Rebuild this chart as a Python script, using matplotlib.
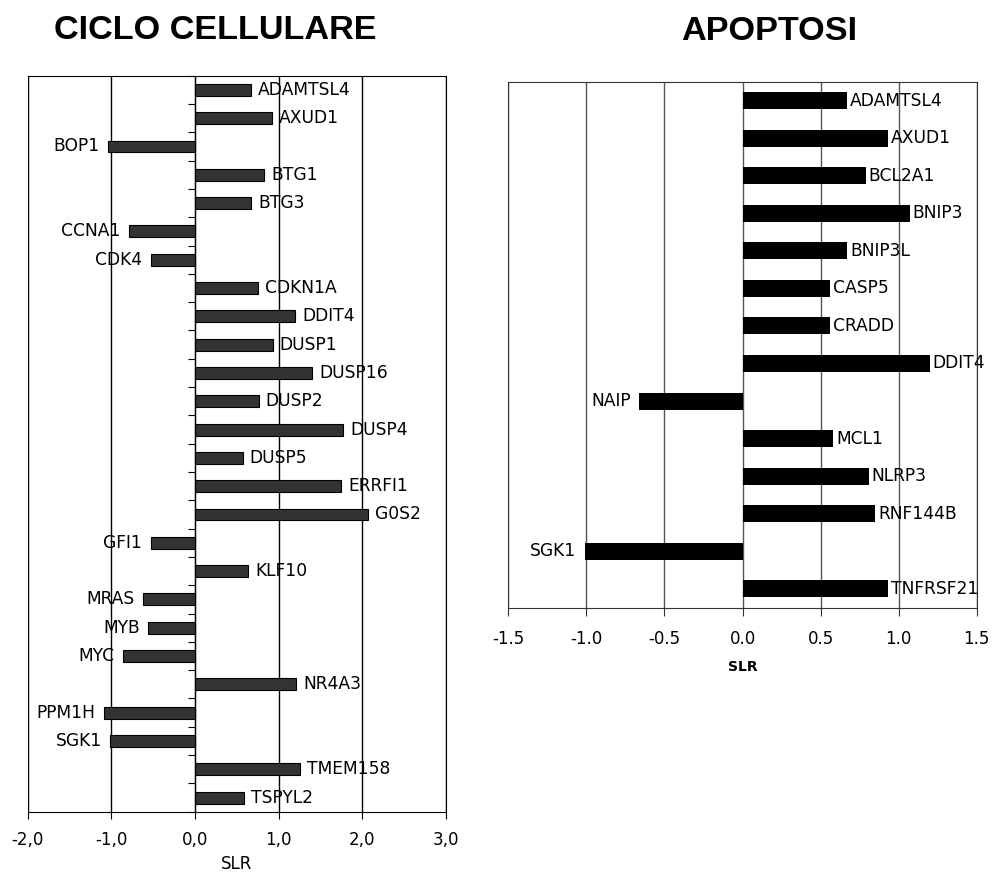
import matplotlib.pyplot as plt
import numpy as np
from matplotlib.ticker import FuncFormatter, MultipleLocator

# ciclo cellulare
cc_genes = ["ADAMTSL4", "AXUD1", "BOP1", "BTG1", "BTG3", "CCNA1", "CDK4", "CDKN1A",
            "DDIT4", "DUSP1", "DUSP16", "DUSP2", "DUSP4", "DUSP5", "ERRFI1", "G0S2",
            "GFI1", "KLF10", "MRAS", "MYB", "MYC", "NR4A3", "PPM1H", "SGK1",
            "TMEM158", "TSPYL2"]
cc_slr = [0.67, 0.92, -1.04, 0.83, 0.67, -0.79, -0.53, 0.75,
          1.20, 0.93, 1.40, 0.76, 1.77, 0.57, 1.75, 2.07,
          -0.53, 0.64, -0.62, -0.56, -0.86, 1.21, -1.09, -1.01,
          1.26, 0.59]

# apoptosi
ap_genes = ["ADAMTSL4", "AXUD1", "BCL2A1", "BNIP3", "BNIP3L", "CASP5", "CRADD",
            "DDIT4", "NAIP", "MCL1", "NLRP3", "RNF144B", "SGK1", "TNFRSF21"]
ap_slr = [0.67, 0.93, 0.79, 1.07, 0.67, 0.56, 0.56,
          1.20, -0.66, 0.58, 0.81, 0.85, -1.01, 0.93]

plt.rcParams['font.family'] = ['DejaVu Sans']

fig = plt.figure(figsize=(10.08, 8.75), dpi=100)

# ---- left chart ----
ax1 = fig.add_axes([0.0273, 0.0723, 0.4152, 0.8412])
n1 = len(cc_genes)
y1 = np.arange(n1)
ax1.barh(y1, cc_slr, height=0.42, color='#333333', edgecolor='black', linewidth=0.8, zorder=3)
ax1.set_xlim(-2, 3)
ax1.set_ylim(n1 - 0.5, -0.5)
ax1.xaxis.set_major_locator(MultipleLocator(1))
ax1.xaxis.set_major_formatter(FuncFormatter(lambda v, p: f"{v:.1f}".replace('.', ',')))
ax1.grid(axis='x', color='black', linewidth=1.0, zorder=0)
ax1.spines['left'].set_position(('data', 0))
ax1.spines['left'].set_zorder(4)
for s in ax1.spines.values():
    s.set_color('black')
ax1.set_yticks(np.arange(-0.5, n1, 1))
ax1.set_yticklabels([])
ax1.tick_params(axis='y', direction='out', length=5, color='black', right=False)
ax1.tick_params(axis='x', direction='out', length=5, labelsize=12, pad=9)
ax1.set_xlabel("SLR", fontsize=12, labelpad=4)
for i, v in enumerate(cc_slr):
    if v >= 0:
        ax1.annotate(cc_genes[i], (v, i), xytext=(5, 0), textcoords='offset points',
                     ha='left', va='center', fontsize=12.3)
    else:
        ax1.annotate(cc_genes[i], (v, i), xytext=(-6, 0), textcoords='offset points',
                     ha='right', va='center', fontsize=12.3)
fig.text(0.214, 0.965, "CICLO CELLULARE", ha='center', va='center',
         fontsize=24.7, fontweight='bold', family='Liberation Sans')

# ---- right chart ----
ax2 = fig.add_axes([0.5043, 0.3055, 0.4647, 0.6011])
n2 = len(ap_genes)
y2 = np.arange(n2)
ax2.barh(y2, ap_slr, height=0.45, color='black', zorder=3)
ax2.set_xlim(-1.5, 1.5)
ax2.set_ylim(n2 - 0.5, -0.5)
ax2.xaxis.set_major_locator(MultipleLocator(0.5))
ax2.xaxis.set_major_formatter(FuncFormatter(lambda v, p: f"{v:.1f}"))
ax2.grid(axis='x', color='#555555', linewidth=1.0, zorder=0)
for s in ax2.spines.values():
    s.set_color('#333333')
ax2.set_yticks([])
ax2.tick_params(axis='x', direction='out', length=6, labelsize=12, pad=10, color='#333333')
ax2.set_xlabel("SLR", fontsize=10, fontweight='bold', labelpad=9)
for i, v in enumerate(ap_slr):
    if v >= 0:
        ax2.annotate(ap_genes[i], (v, i), xytext=(2, 0), textcoords='offset points',
                     ha='left', va='center', fontsize=12.3)
    else:
        ax2.annotate(ap_genes[i], (v, i), xytext=(-6, 0), textcoords='offset points',
                     ha='right', va='center', fontsize=12.3)
fig.text(0.763, 0.964, "APOPTOSI", ha='center', va='center',
         fontsize=24.7, fontweight='bold', family='Liberation Sans')

fig.savefig("out.png", dpi=100)
